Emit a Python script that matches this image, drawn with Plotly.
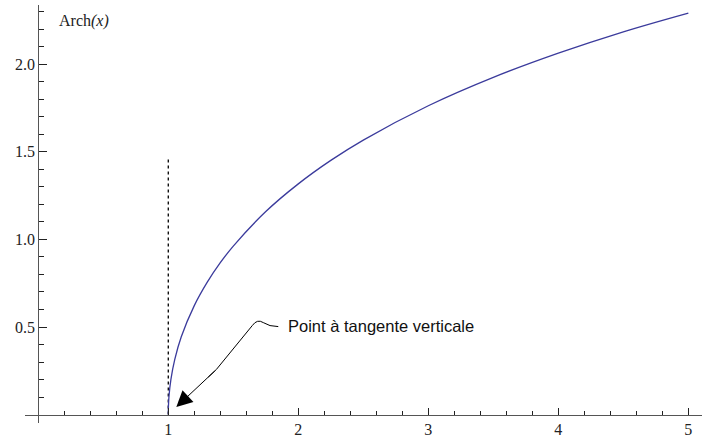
import plotly.graph_objects as go

# Curve values (Arch(x) = argcosh)
x_vals = [1.0, 1.001, 1.005, 1.02, 1.05, 1.1, 1.2, 1.3, 1.4, 1.5, 1.75, 2.0, 2.25, 2.5, 3.0, 3.5, 4.0, 4.5, 5.0]
y_vals = [0.0, 0.045, 0.100, 0.200, 0.315, 0.444, 0.622, 0.756, 0.867, 0.962, 1.159, 1.317, 1.451, 1.567, 1.763, 1.925, 2.063, 2.185, 2.292]

# Vertical dotted guide at x = 1
guide_x = [1.0, 1.0]
guide_y = [0.0, 1.46]

x_tickvals = [1, 2, 3, 4, 5]
x_ticktext = ["1", "2", "3", "4", "5"]
x_minor = [round(0.2 * i, 1) for i in range(1, 26)]
y_tickvals = [0.5, 1.0, 1.5, 2.0]
y_ticktext = ["0.5", "1.0", "1.5", "2.0"]
y_minor = [round(0.1 * i, 1) for i in range(1, 24)]

point_label = "Point à tangente verticale"
y_label = "Arch<i>(x)</i>"

x_range = [-0.102, 5.105]
y_range = [-0.048, 2.338]

fig = go.Figure()
fig.add_trace(go.Scatter(x=guide_x, y=guide_y, mode="lines",
                         line=dict(color="black", width=1.3, dash="dot"),
                         hoverinfo="skip", showlegend=False))
fig.add_trace(go.Scatter(x=x_vals, y=y_vals, mode="lines",
                         line=dict(color="#3b3b9c", width=1.3, shape="spline"),
                         showlegend=False))

axis_font = dict(family="Liberation Serif, Times New Roman, serif", size=16, color="#222")

fig.update_layout(
    width=713, height=437,
    margin=dict(l=25, r=11, t=5, b=14, autoexpand=False),
    paper_bgcolor="white", plot_bgcolor="white",
    xaxis=dict(range=x_range, anchor="free", automargin=False,
               position=(0 - y_range[0]) / (y_range[1] - y_range[0]),
               showgrid=False, zeroline=False, showline=True, linecolor="#555", linewidth=1,
               tickmode="array", tickvals=x_tickvals, ticktext=x_ticktext,
               ticks="inside", ticklen=7, tickcolor="#222", tickwidth=1,
               tickfont=axis_font,
               minor=dict(tickmode="array", tickvals=x_minor, ticks="inside",
                          ticklen=4, tickcolor="#222", tickwidth=1, showgrid=False)),
    yaxis=dict(range=y_range, anchor="free", automargin=False,
               position=(0 - x_range[0]) / (x_range[1] - x_range[0]),
               showgrid=False, zeroline=False, showline=True, linecolor="#555", linewidth=1,
               tickmode="array", tickvals=y_tickvals, ticktext=y_ticktext,
               ticks="inside", ticklen=8, tickcolor="#222", tickwidth=1,
               tickfont=axis_font,
               minor=dict(tickmode="array", tickvals=y_minor, ticks="inside",
                          ticklen=5, tickcolor="#222", tickwidth=1, showgrid=False)),
)

# Arrow to the point (1, 0)
fig.add_annotation(x=1, y=0, xref="x", yref="y", ax=48, ay=-45, axref="pixel", ayref="pixel",
                   text="", showarrow=True, arrowhead=2, arrowsize=3.2, arrowwidth=1,
                   arrowcolor="black", standoff=11)

# Wiggly connector from arrow tail to label
fig.add_shape(type="path", xref="x", yref="y", xsizemode="pixel", ysizemode="pixel",
              xanchor=1, yanchor=0,
              path="M 40,37.5 L 48,45 L 84,89 Q 89,96 95,92 Q 101,88 110,88",
              line=dict(color="black", width=1))

fig.add_annotation(x=1.905, y=0.505, xref="x", yref="y", text=point_label, showarrow=False,
                   xanchor="left", yanchor="middle",
                   font=dict(family="Liberation Sans, Arial, sans-serif", size=16.5, color="#111"))

fig.add_annotation(x=0.146, y=2.248, xref="x", yref="y", text=y_label, showarrow=False,
                   xanchor="left", yanchor="middle", font=axis_font)

fig.write_html("out.html", config={"displayModeBar": False},
               post_script="document.body.style.margin='0';")
